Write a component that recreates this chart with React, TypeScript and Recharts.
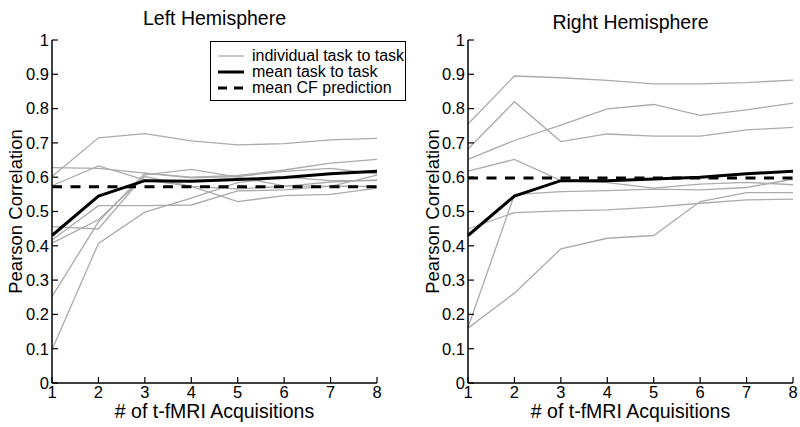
import React from 'react';
import { LineChart, Line, XAxis, YAxis, ReferenceLine, Label } from 'recharts';

const acquisitions = [1, 2, 3, 4, 5, 6, 7, 8];
const yTicks = [0, 0.1, 0.2, 0.3, 0.4, 0.5, 0.6, 0.7, 0.8, 0.9, 1];

const leftIndividual = [
  [0.602, 0.715, 0.727, 0.706, 0.694, 0.698, 0.709, 0.713],
  [0.628, 0.626, 0.612, 0.598, 0.602, 0.617, 0.626, 0.61],
  [0.575, 0.633, 0.592, 0.573, 0.566, 0.573, 0.586, 0.592],
  [0.456, 0.449, 0.607, 0.623, 0.6, 0.575, 0.573, 0.606],
  [0.417, 0.517, 0.517, 0.519, 0.56, 0.563, 0.574, 0.573],
  [0.408, 0.476, 0.602, 0.573, 0.529, 0.546, 0.55, 0.568],
  [0.252, 0.47, 0.612, 0.6, 0.605, 0.621, 0.641, 0.652],
  [0.097, 0.407, 0.498, 0.539, 0.584, 0.6, 0.59, 0.59],
];
const leftMean = [0.43, 0.545, 0.59, 0.588, 0.593, 0.599, 0.61, 0.617];
const leftCF = 0.572;

const rightIndividual = [
  [0.755, 0.895, 0.89, 0.882, 0.872, 0.872, 0.876, 0.883],
  [0.682, 0.82, 0.704, 0.726, 0.72, 0.72, 0.738, 0.745],
  [0.652, 0.707, 0.752, 0.799, 0.812, 0.78, 0.796, 0.816],
  [0.618, 0.652, 0.59, 0.584, 0.568, 0.58, 0.585, 0.578],
  [0.449, 0.497, 0.502, 0.505, 0.513, 0.524, 0.534, 0.536],
  [0.16, 0.262, 0.391, 0.422, 0.43, 0.529, 0.555, 0.555],
  [0.162, 0.549, 0.558, 0.561, 0.565, 0.563, 0.57, 0.594],
];
const rightMean = [0.43, 0.545, 0.59, 0.59, 0.595, 0.6, 0.61, 0.617];
const rightCF = 0.598;

const FONT = "'Liberation Sans', Arial, sans-serif";
const GRAY = '#ababab';

const YLabel = (props: any) => {
  const vb = props.viewBox || {};
  const cx = (vb.x ?? 0) + (props.off ?? 0);
  const cy = (vb.y ?? 0) + (vb.height ?? 0) / 2;
  return (
    <text
      x={cx}
      y={cy}
      transform={`rotate(-90 ${cx} ${cy})`}
      textAnchor="middle"
      dominantBaseline="central"
      fontFamily={FONT}
      fontSize={18.5}
      fill="#000"
    >
      Pearson Correlation
    </text>
  );
};

type PanelProps = {
  title: string;
  titleTop: number;
  individual: number[][];
  mean: number[];
  cf: number;
  width: number;
  left: number;
  marginLeft: number;
  marginRight: number;
  yLabelOff: number;
  legend?: boolean;
};

const Panel = ({ title, titleTop, individual, mean, cf, width, left, marginLeft, marginRight, yLabelOff, legend }: PanelProps) => {
  const data = acquisitions.map((x, i) => {
    const row: any = { x, mean: mean[i] };
    individual.forEach((s, k) => {
      row['g' + k] = s[i];
    });
    return row;
  });
  const plotLeft = marginLeft + 44;
  const plotRight = width - marginRight;
  return (
    <div style={{ position: 'absolute', left, top: 0, width, height: 427 }}>
      <LineChart
        width={width}
        height={427}
        data={data}
        margin={{ top: 40, right: marginRight, left: marginLeft, bottom: 0 }}
      >
        <XAxis
          dataKey="x"
          type="number"
          domain={[1, 8]}
          ticks={acquisitions}
          allowDecimals={false}
          height={44}
          axisLine={{ stroke: '#000', strokeWidth: 1.5 }}
          tickLine={{ stroke: '#000', strokeWidth: 1.2 }}
          tickSize={-6}
          tickMargin={9}
          tick={{ fill: '#000', fontSize: 16.5, fontFamily: FONT }}
          interval={0}
        >
          <Label
            value="# of t-fMRI Acquisitions"
            position="insideBottom"
            offset={9}
            style={{ fontFamily: FONT, fontSize: 19.5, fill: '#000' }}
          />
        </XAxis>
        <YAxis
          type="number"
          domain={[0, 1]}
          ticks={yTicks}
          width={44}
          axisLine={{ stroke: '#000', strokeWidth: 1.5 }}
          tickLine={{ stroke: '#000', strokeWidth: 1.2 }}
          tickSize={-6}
          tickMargin={9}
          tick={{ fill: '#000', fontSize: 16.5, fontFamily: FONT }}
          interval={0}
        >
          <Label content={<YLabel off={yLabelOff} />} />
        </YAxis>
        {individual.map((_, k) => (
          <Line
            key={k}
            dataKey={'g' + k}
            stroke={GRAY}
            strokeWidth={1.3}
            dot={false}
            isAnimationActive={false}
          />
        ))}
        <ReferenceLine y={cf} stroke="#000" strokeWidth={3} strokeDasharray="10 8.5" />
        <Line dataKey="mean" stroke="#000" strokeWidth={3} dot={false} isAnimationActive={false} />
      </LineChart>
      <div
        style={{
          position: 'absolute',
          top: titleTop,
          left: plotLeft,
          width: plotRight - plotLeft,
          textAlign: 'center',
          fontFamily: FONT,
          fontSize: 19.5,
          lineHeight: '24px',
          color: '#000',
        }}
      >
        {title}
      </div>
      {legend && (
        <div
          style={{
            position: 'absolute',
            left: 210,
            top: 41,
            width: 194,
            height: 58,
            border: '1.5px solid #000',
            background: '#fff',
            fontFamily: FONT,
            fontSize: 16,
            color: '#000',
            boxSizing: 'content-box',
          }}
        >
          {[
            { label: 'individual task to task', color: GRAY, w: 1.3, dash: undefined },
            { label: 'mean task to task', color: '#000', w: 3, dash: undefined },
            { label: 'mean CF prediction', color: '#000', w: 3, dash: '9 7' },
          ].map((e, i) => (
            <div key={i} style={{ position: 'absolute', left: 6, top: 5 + i * 16, height: 18, display: 'flex', alignItems: 'center', whiteSpace: 'nowrap' }}>
              <svg width={28} height={10} style={{ marginRight: 7 }}>
                <line x1={1} y1={5} x2={27} y2={5} stroke={e.color} strokeWidth={e.w} strokeDasharray={e.dash} />
              </svg>
              <span style={{ lineHeight: '18px' }}>{e.label}</span>
            </div>
          ))}
        </div>
      )}
    </div>
  );
};

export default function App() {
  return (
    <div style={{ position: 'absolute', left: 0, top: 0, width: 800, height: 427, background: '#fff' }}>
      <Panel
        title="Left Hemisphere"
        titleTop={6}
        individual={leftIndividual}
        mean={leftMean}
        cf={leftCF}
        width={420}
        left={0}
        marginLeft={8}
        marginRight={43}
        yLabelOff={7}
        legend
      />
      <Panel
        title="Right Hemisphere"
        titleTop={10}
        individual={rightIndividual}
        mean={rightMean}
        cf={rightCF}
        width={380}
        left={420}
        marginLeft={4}
        marginRight={7}
        yLabelOff={8}
      />
    </div>
  );
}
